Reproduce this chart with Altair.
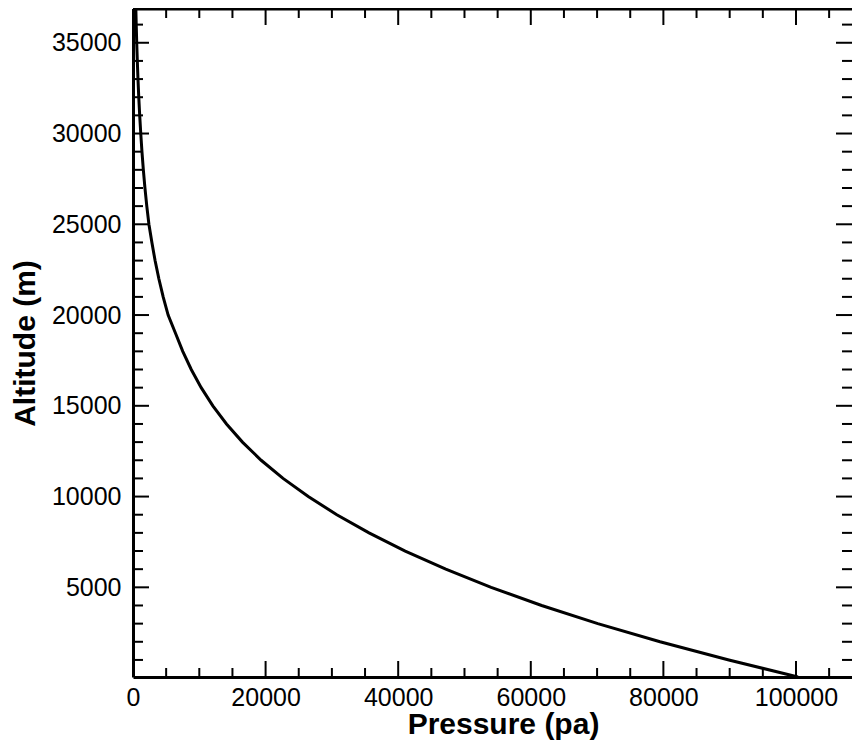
import altair as alt
import pandas as pd

# Curve: altitude (m) vs pressure (Pa)
altitude = [60, 1000, 2000, 3000, 4000, 5000, 6000, 7000, 8000, 9000, 10000,
            11000, 12000, 13000, 14000, 15000, 16000, 17000, 18000, 19000, 20000,
            21000, 22000, 23000, 24000, 25000, 26000, 27000, 28000, 29000, 30000,
            31000, 32000, 33000, 34000, 35000, 36000, 36860]
pressure = [100300, 89875, 79495, 70109, 61640, 54020, 47181, 41061, 35600, 30742, 26436,
            22632, 19330, 16510, 14102, 12045, 10287, 8787, 7505, 6410, 5300,
            4550, 3900, 3330, 2850, 2400, 2080, 1800, 1560, 1350, 1170,
            1010, 870, 750, 650, 560, 485, 430]

x_major = [0, 20000, 40000, 60000, 80000, 100000]
x_minor = [v for v in range(5000, 110000, 5000) if v % 20000 != 0]
y_major = [5000, 10000, 15000, 20000, 25000, 30000, 35000]
y_minor = [v for v in range(1000, 37000, 1000) if v % 5000 != 0]

X_DOMAIN = [0, 108450]
Y_DOMAIN = [60, 36860]
W, H = 719, 668
FONT = "Liberation Sans"

curve = pd.DataFrame({"Pressure": pressure, "Altitude": altitude})
xs = alt.Scale(domain=X_DOMAIN, nice=False, zero=False)
ys = alt.Scale(domain=Y_DOMAIN, nice=False, zero=False)

line = alt.Chart(curve).mark_line(color="black", strokeWidth=3, clip=True).encode(
    x=alt.X("Pressure:Q", scale=xs, title="Pressure (pa)",
            axis=alt.Axis(values=x_major, grid=False, ticks=False, tickSize=0,
                          labelPadding=28, labelBaseline="alphabetic",
                          labelFlush=False, labelOverlap=False,
                          titleX=370, titleY=56, titleBaseline="alphabetic",
                          format="d")),
    y=alt.Y("Altitude:Q", scale=ys, title="Altitude (m)",
            axis=alt.Axis(values=y_major, grid=False, ticks=False, tickSize=0,
                          labelPadding=12, labelFlush=False, labelOverlap=False,
                          titleX=-108, titleY=334, titleAngle=-90,
                          titleBaseline="middle", titleAlign="center",
                          format="d")),
)

def xticks(vals, length):
    df = pd.DataFrame({"v": vals})
    bottom = alt.Chart(df).mark_rule(color="black", strokeWidth=2).encode(
        x=alt.X("v:Q", scale=xs), y=alt.value(H), y2=alt.value(H - length))
    top = alt.Chart(df).mark_rule(color="black", strokeWidth=2).encode(
        x=alt.X("v:Q", scale=xs), y=alt.value(0), y2=alt.value(length))
    return [bottom, top]

def yticks(vals, length):
    df = pd.DataFrame({"v": vals})
    left = alt.Chart(df).mark_rule(color="black", strokeWidth=2).encode(
        y=alt.Y("v:Q", scale=ys), x=alt.value(0), x2=alt.value(length))
    right = alt.Chart(df).mark_rule(color="black", strokeWidth=2).encode(
        y=alt.Y("v:Q", scale=ys), x=alt.value(W), x2=alt.value(W - length))
    return [left, right]

top_border = alt.Chart(pd.DataFrame({"v": [0]})).mark_rule(
    color="black", strokeWidth=3).encode(x=alt.value(0), x2=alt.value(W), y=alt.value(0))

layers = (xticks(x_major, 16) + xticks(x_minor, 9) +
          yticks(y_major, 16) + yticks(y_minor, 10) + [top_border, line])

chart = alt.layer(*layers).properties(
    width=W, height=H,
    autosize=alt.AutoSizeParams(type="none"),
    padding={"left": 125, "top": 1, "right": 0, "bottom": 64},
).configure_view(stroke=None).configure_axis(
    domainColor="black", domainWidth=3,
    labelColor="black", labelFont=FONT, labelFontSize=25, labelFontWeight="normal",
    titleColor="black", titleFont=FONT, titleFontSize=30, titleFontWeight="bold",
)

chart.save("out.html", embed_options={"renderer": "svg", "actions": False})
